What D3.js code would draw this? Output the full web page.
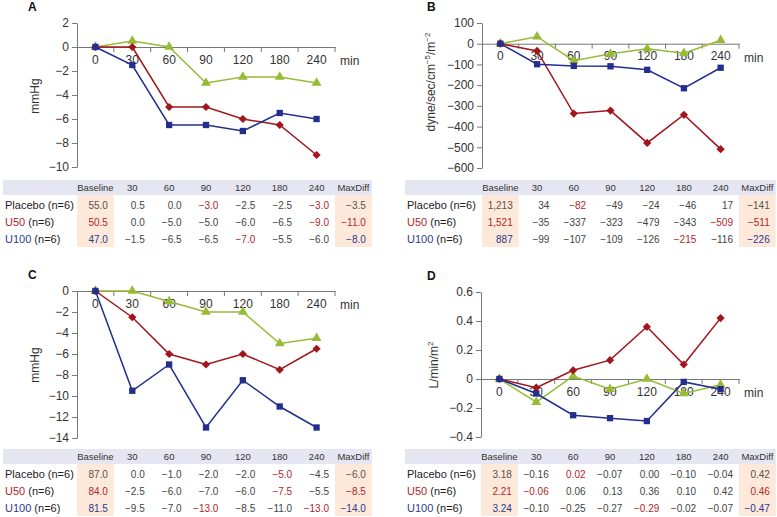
<!DOCTYPE html>
<html>
<head>
<meta charset="utf-8">
<script src="https://cdn.jsdelivr.net/npm/d3@7"></script>
<style>
body{margin:0;background:#fff}
svg text{font-family:"Liberation Sans",Arial,sans-serif}
</style>
</head>
<body>
<svg id="fig" width="777" height="517"></svg>
<script>
const times=["0","30","60","90","120","180","240"]
const colHeads=["Baseline","30","60","90","120","180","240","MaxDiff"]
const groups=["Placebo","U50","U100"]

// A - mmHg
const mapPlacebo=[0.5,0.0,-3.0,-2.5,-2.5,-3.0]
const mapU50=[0.0,-5.0,-5.0,-6.0,-6.5,-9.0]
const mapU100=[-1.5,-6.5,-6.5,-7.0,-5.5,-6.0]
const mapBaseline=[55.0,50.5,47.0]
const mapMaxDiff=[-3.5,-11.0,-8.0]
const mapRed=[[2,5],[5],[3]]
const mapTicks=[2,0,-2,-4,-6,-8,-10]

// B - dyne/sec/cm-5/m-2
const svriPlacebo=[34,-82,-49,-24,-46,17]
const svriU50=[-35,-337,-323,-479,-343,-509]
const svriU100=[-99,-107,-109,-126,-215,-116]
const svriBaseline=[1213,1521,887]
const svriMaxDiff=[-141,-511,-226]
const svriRed=[[1],[5],[4]]
const svriTicks=[100,0,-100,-200,-300,-400,-500,-600]

// C - mmHg
const dapPlacebo=[0.0,-1.0,-2.0,-2.0,-5.0,-4.5]
const dapU50=[-2.5,-6.0,-7.0,-6.0,-7.5,-5.5]
const dapU100=[-9.5,-7.0,-13.0,-8.5,-11.0,-13.0]
const dapBaseline=[87.0,84.0,81.5]
const dapMaxDiff=[-6.0,-8.5,-14.0]
const dapRed=[[4],[4],[2,5]]
const dapTicks=[0,-2,-4,-6,-8,-10,-12,-14]

// D - L/min/m2
const ciPlacebo=[-0.16,0.02,-0.07,0.00,-0.10,-0.04]
const ciU50=[-0.06,0.06,0.13,0.36,0.10,0.42]
const ciU100=[-0.10,-0.25,-0.27,-0.29,-0.02,-0.07]
const ciBaseline=[3.18,2.21,3.24]
const ciMaxDiff=[0.42,0.46,-0.47]
const ciRed=[[1],[0],[3]]
const ciTicks=[0.6,0.4,0.2,0,-0.2,-0.4]

const colors={Placebo:"#97bb35",U50:"#a0161c",U100:"#232e8e"}
const txtColors={Placebo:"#5a5050",U50:"#b0262c",U100:"#2e3890"}
const svg=d3.select('#fig')

function panel(p){
	let g=svg.append('g')
	let x=d3.scaleBand().domain(times).range([p.x0,p.x1])
	let y=d3.scaleLinear().domain([p.ticks[p.ticks.length-1],p.ticks[0]]).range([p.y1,p.y0])
	let bw=x.bandwidth()

	g.append('text').attr('x',p.lx).attr('y',p.y0-12).text(p.letter)
		.attr('font-weight','bold').attr('font-size',12).attr('fill','#111')

	// y axis
	let ya=g.append('g').attr('transform','translate('+p.x0+',0)')
		.call(d3.axisLeft(y).tickValues(p.ticks).tickSize(5).tickSizeOuter(0).tickPadding(3).tickFormat(p.tfmt))
	ya.selectAll('path,line').attr('stroke','#777')
	ya.selectAll('text').attr('font-size',12).attr('fill','#333').attr('font-family','"Liberation Sans",Arial,sans-serif')

	// x axis on zero line
	let y0=y(0)
	let xa=g.append('g').attr('transform','translate(0,'+y0+')')
		.call(d3.axisBottom(x).tickSize(0).tickSizeOuter(0).tickPadding(8))
	xa.select('.domain').attr('stroke','#777')
	xa.selectAll('text').attr('font-size',12).attr('fill','#333').attr('font-family','"Liberation Sans",Arial,sans-serif')
	let edges=times.slice(1).map(t=>x(t)).concat([p.x1])
	g.selectAll('.xt').data(edges).join('line').attr('class','xt')
		.attr('x1',d=>d).attr('x2',d=>d).attr('y1',y0).attr('y2',y0+5).attr('stroke','#777')
	g.append('text').attr('x',p.x1+5).attr('y',y0+18).text('min')
		.attr('font-size',12).attr('fill','#333')

	// y label
	let yl=g.append('text').attr('transform','translate('+p.ylx+','+p.yly+') rotate(-90)')
		.attr('text-anchor','middle').attr('font-size',12).attr('fill','#333')
	p.ylabel.forEach(s=>{
		let t=yl.append('tspan').text(s[0])
		if(s[1]){t.attr('font-size',8).attr('dy',-5)}
		else if(s[2]){t.attr('dy',5)}
	})

	// lines
	let line=d3.line().x(d=>x(d[0])+bw/2).y(d=>y(d[1]))
	let shapes={Placebo:d3.symbolTriangle,U50:d3.symbolSquare,U100:d3.symbolSquare}
	let sizes={Placebo:42,U50:34,U100:40}
	groups.forEach(grp=>{
		let pts=times.map((t,i)=>[t,i===0?0:p.series[grp][i-1]])
		g.append('path').datum(pts).attr('d',line).attr('fill','none')
			.attr('stroke',colors[grp]).attr('stroke-width',1.5)
		g.selectAll('.m'+grp).data(pts).join('path').attr('class','m'+grp)
			.attr('d',d3.symbol().type(shapes[grp]).size(sizes[grp]))
			.attr('transform',d=>'translate('+(x(d[0])+bw/2)+','+y(d[1])+')'+(grp==='U50'?' rotate(45)':''))
			.attr('fill',colors[grp])
	})

	// table
	let c=d3.scaleBand().domain(colHeads).range([p.x0,p.x0+bw*8])
	let ty=p.ty
	g.append('rect').attr('x',p.tx).attr('y',ty).attr('width',p.x0+bw*8-p.tx).attr('height',15).attr('fill','#e5e6f2')
	;['Baseline','MaxDiff'].forEach(h=>{
		g.append('rect').attr('x',c(h)).attr('y',ty+15).attr('width',c.bandwidth()).attr('height',52).attr('fill','#fde9d9')
	})
	g.selectAll('.th').data(colHeads).join('text').attr('class','th')
		.attr('x',d=>c(d)+c.bandwidth()/2).attr('y',ty+11).attr('text-anchor','middle')
		.attr('font-size',9.5).attr('fill','#333').text(d=>d)
	groups.forEach((grp,r)=>{
		let ry=ty+29+r*17
		let lt=g.append('text').attr('x',p.tx+2).attr('y',ry).attr('font-size',11).attr('fill','#222')
		lt.append('tspan').text(grp).attr('fill',grp==='Placebo'?'#222':txtColors[grp])
		lt.append('tspan').text(' (n=6)')
		let vals=[p.base[r]].concat(p.series[grp]).concat([p.maxd[r]])
		g.selectAll('.v'+grp).data(vals).join('text').attr('class','v'+grp)
			.attr('x',(d,i)=>c(colHeads[i])+c.bandwidth()-6).attr('y',ry)
			.attr('text-anchor','end').attr('font-size',10)
			.attr('fill',(d,i)=>{
				if(i===0||i===7)return txtColors[grp]
				if(p.red[r].indexOf(i-1)>=0)return txtColors.U50
				return '#444'
			})
			.text((d,i)=>i===0?p.bfmt(d):p.vfmt(d))
	})
}

let f1=d3.format('.1f')
let f2=d3.format('.2f')
panel({letter:'A',lx:28,x0:77,x1:335,y0:23,y1:167,ticks:mapTicks,tfmt:d3.format('d'),
	ylabel:[['mmHg']],ylx:39,yly:96,
	series:{Placebo:mapPlacebo,U50:mapU50,U100:mapU100},base:mapBaseline,maxd:mapMaxDiff,red:mapRed,
	ty:180,tx:3,bfmt:f1,vfmt:f1})
panel({letter:'B',lx:427,x0:482,x1:739,y0:23,y1:168,ticks:svriTicks,tfmt:d3.format('d'),
	ylabel:[['dyne/sec/cm'],['−5',1],['/m',0,1],['−2',1]],ylx:435,yly:82,
	series:{Placebo:svriPlacebo,U50:svriU50,U100:svriU100},base:svriBaseline,maxd:svriMaxDiff,red:svriRed,
	ty:180,tx:405,bfmt:d3.format(','),vfmt:d3.format('d')})
panel({letter:'C',lx:28,x0:77,x1:335,y0:291,y1:438,ticks:dapTicks,tfmt:d3.format('d'),
	ylabel:[['mmHg']],ylx:39,yly:365,
	series:{Placebo:dapPlacebo,U50:dapU50,U100:dapU100},base:dapBaseline,maxd:dapMaxDiff,red:dapRed,
	ty:449,tx:3,bfmt:f1,vfmt:f1})
panel({letter:'D',lx:427,x0:481,x1:739,y0:292,y1:437,ticks:ciTicks,tfmt:d=>d===0?'0':f1(d),
	ylabel:[['L/min/m'],['2',1]],ylx:438,yly:365,
	series:{Placebo:ciPlacebo,U50:ciU50,U100:ciU100},base:ciBaseline,maxd:ciMaxDiff,red:ciRed,
	ty:449,tx:405,bfmt:f2,vfmt:f2})
</script>
</body>
</html>
